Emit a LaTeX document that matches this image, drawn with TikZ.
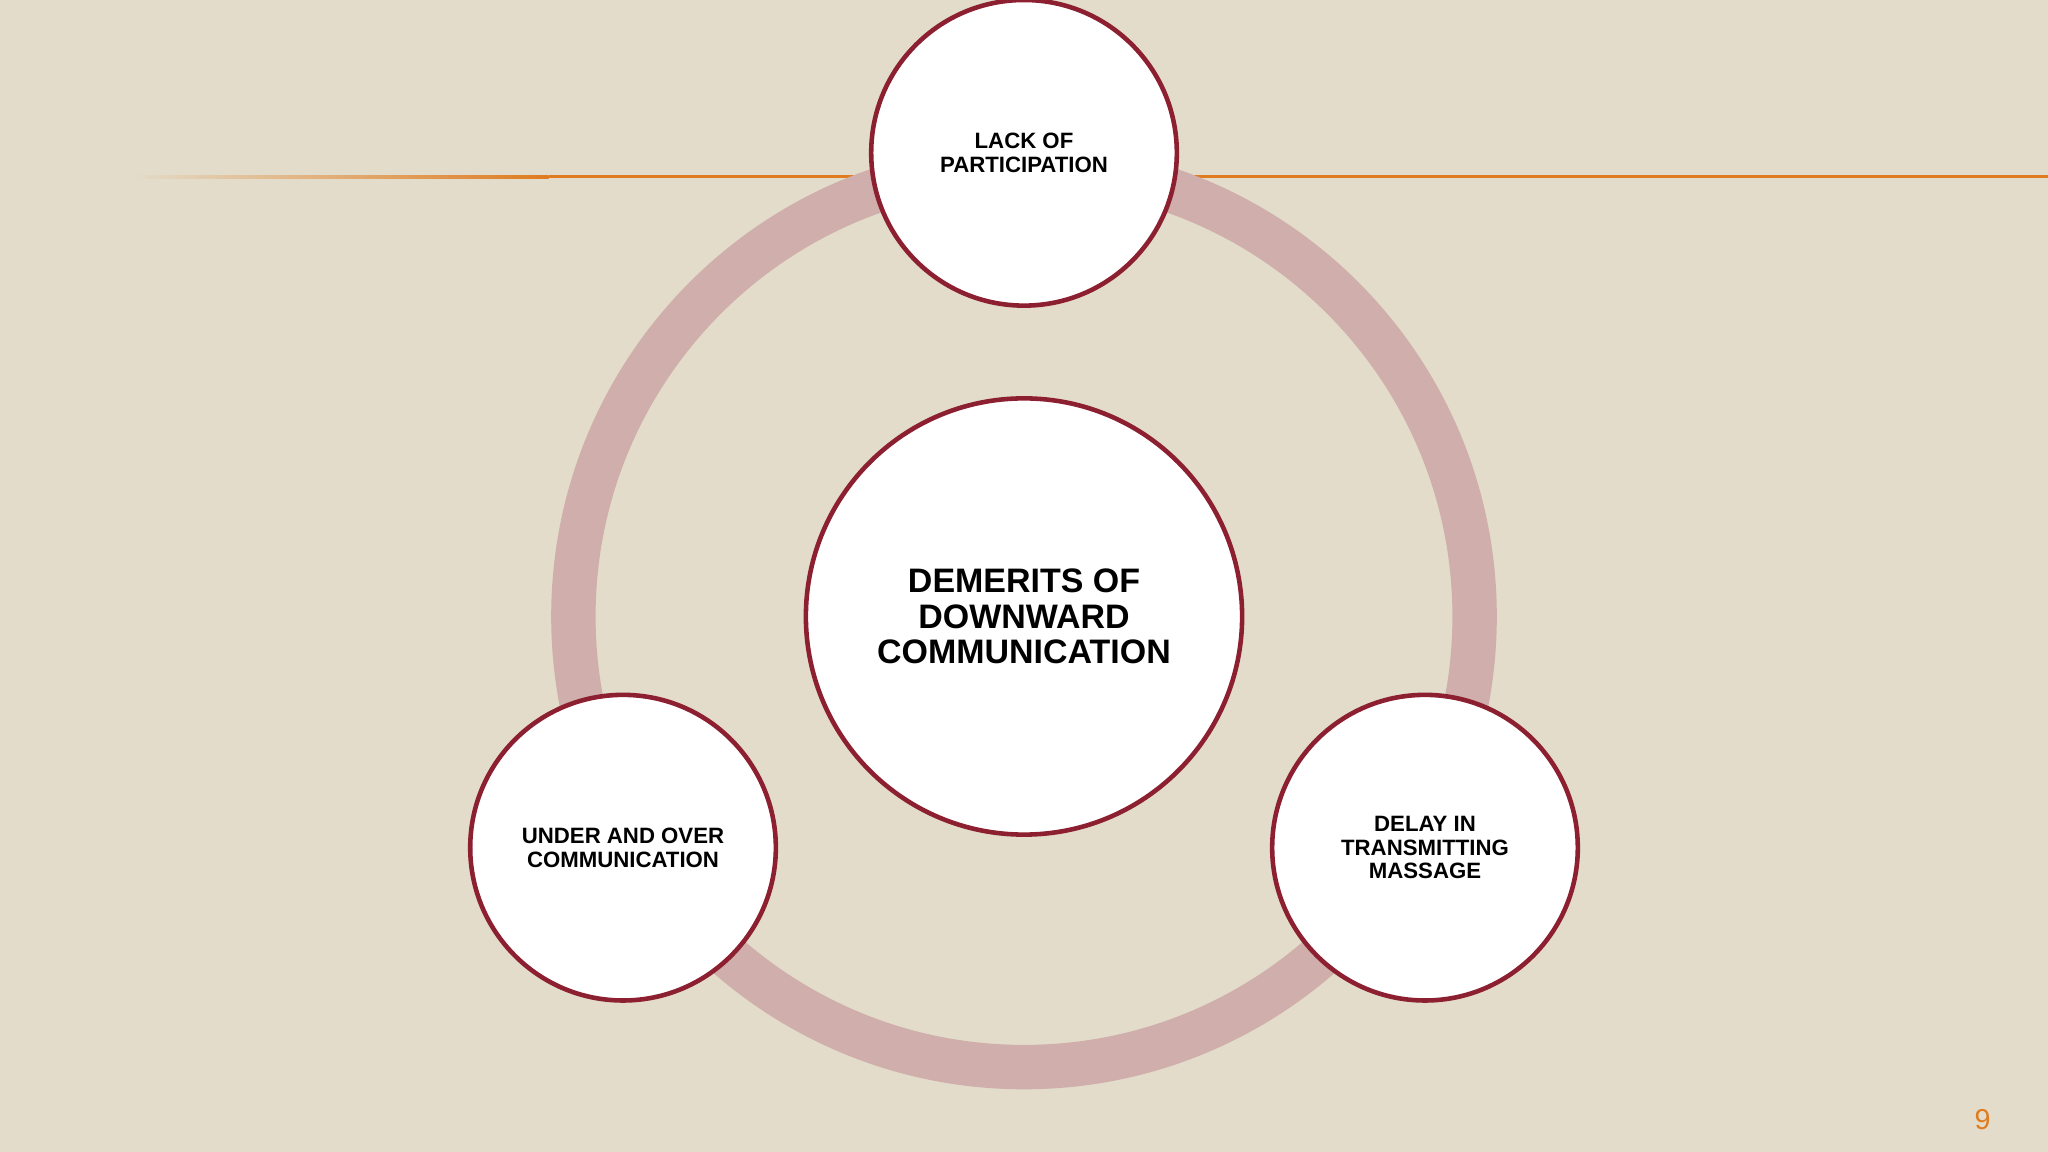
\documentclass[tikz,border=0pt]{standalone}
\usepackage{fontspec}
\setmainfont{Liberation Sans}
\usetikzlibrary{fadings}
\definecolor{bg}{HTML}{E3DCCA}
\definecolor{ringc}{HTML}{CFAEAB}
\definecolor{rimc}{HTML}{8C1F30}
\definecolor{orangec}{HTML}{E07B1E}
\tikzset{
  bubble/.style={circle,draw=rimc,line width=3.5pt,fill=white,align=center,font=\bfseries\fontsize{17}{18}\selectfont,inner sep=0pt},
}
\begin{document}
\begin{tikzpicture}[x=1pt,y=-1pt]
\fill[bg] (0,0) rectangle (1568,882);
\useasboundingbox (0,0) rectangle (1568,882);
\shade[left color=bg,right color=orangec] (100,134) rectangle (420,136.5);
\fill[orangec] (420,134) rectangle (1568,136.5);
\coordinate (ctr) at (784,472);
\draw[ringc,line width=34pt] (ctr) circle[radius=345];
\node[bubble,minimum size=334,font=\bfseries\fontsize{26}{27}\selectfont] (c) at (ctr) {DEMERITS OF\\DOWNWARD\\COMMUNICATION};
\node[bubble,minimum size=234] (t) at (784,117) {LACK OF\\PARTICIPATION};
\node[bubble,minimum size=234] (l) at (477,649) {UNDER AND OVER\\COMMUNICATION};
\node[bubble,minimum size=234] (r) at (1091,649) {DELAY IN\\TRANSMITTING\\MASSAGE};
\node[text=orangec,font=\fontsize{22}{24}\selectfont] (pn) at (1518,857) {9};
\end{tikzpicture}
\end{document}
